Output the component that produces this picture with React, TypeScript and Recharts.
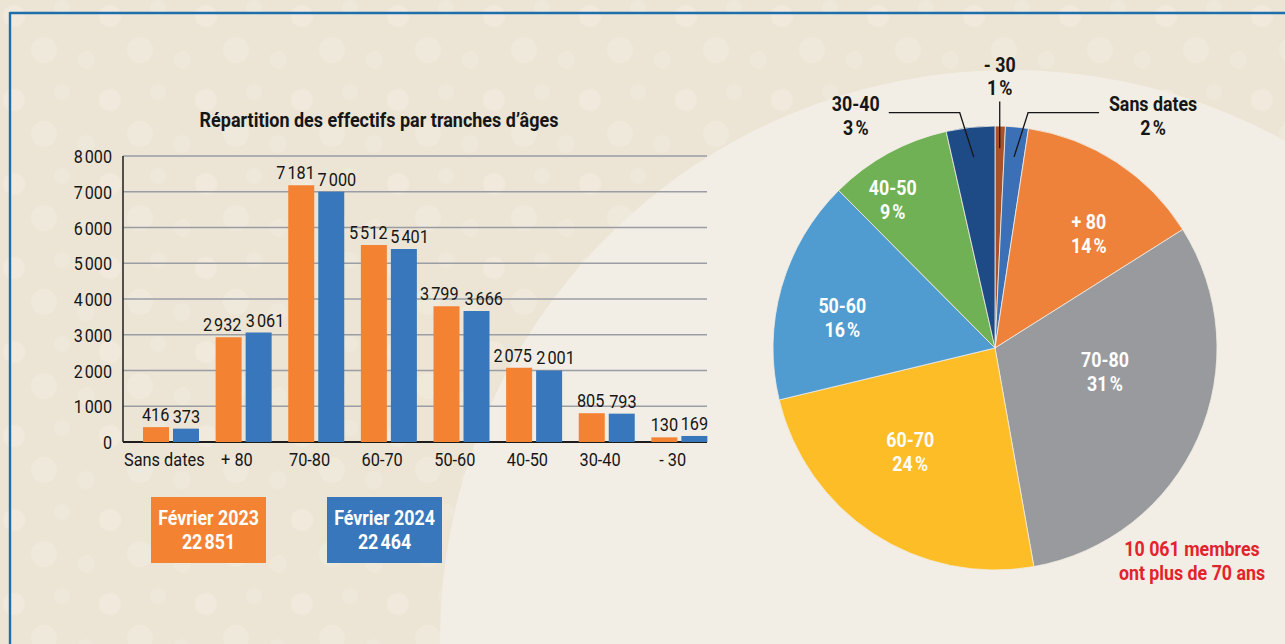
import { Bar, BarChart, CartesianGrid, Cell, LabelList, Pie, PieChart, XAxis, YAxis } from "recharts"

const categories = ["Sans dates", "+ 80", "70-80", "60-70", "50-60", "40-50", "30-40", "- 30"]
const feb2023 = [416, 2932, 7181, 5512, 3799, 2075, 805, 130]
const feb2024 = [373, 3061, 7000, 5401, 3666, 2001, 793, 169]
const yTicks = [0, 1000, 2000, 3000, 4000, 5000, 6000, 7000, 8000]

const legendLabels = ["Février 2023", "Février 2024"]
const legendTotals = [22851, 22464]

// pie = Février 2024, clockwise from 12 o'clock
const pieCategories = ["- 30", "Sans dates", "+ 80", "70-80", "60-70", "50-60", "40-50", "30-40"]
const pieValues = [169, 373, 3061, 7000, 5401, 3666, 2001, 793]
const pieShares = [1, 2, 14, 31, 24, 16, 9, 3]

const FONT = "Roboto, 'Liberation Sans', sans-serif"
const ORANGE = "#F48233"
const BLUE = "#3877BB"
const PIE_COLORS = ["#A9522A", "#3B70B7", "#EE823B", "#989A9D", "#FDBD27", "#509BD0", "#70B155", "#1E4B86"]
const TEXT = "#161616"

const PLOT_BOTTOM = 442

const barData = categories.map((name, i) => ({ name, feb2023: feb2023[i], feb2024: feb2024[i] }))
const pieData = pieCategories.map((name, i) => ({ name, value: pieValues[i] }))

const fmt = (v: any) => Number(v).toLocaleString("fr-FR")

// no condensed font installed, so text is squeezed horizontally
function NarrowText({ x, y, anchor = "middle", size = 19, weight = 400, fill = TEXT, sx, children }: any) {
  const k = sx ?? (weight >= 700 ? 0.89 : 0.85)
  const fs = weight >= 700 && size === 19 ? 20 : size
  return (
    <g transform={`translate(${x} ${y}) scale(${k} 1)`}>
      <text x={0} y={0} textAnchor={anchor} fill={fill} style={{ fontFamily: FONT, fontSize: fs, fontWeight: weight }}>
        {children}
      </text>
    </g>
  )
}

const renderGridLine = (props: any) => {
  const { x1, x2, y1, index } = props
  const base = Math.abs(y1 - PLOT_BOTTOM) < 1
  return (
    <line
      key={`grid-${index}`}
      x1={x1}
      x2={x2 - 9}
      y1={y1}
      y2={y1}
      stroke={base ? "#1d1d1d" : "#9a9da3"}
      strokeWidth={base ? 1.8 : 1.3}
    />
  )
}

const renderXTick = (p: any) => (
  <NarrowText key={`xt-${p.index}`} x={p.x - 7} y={p.y + 14} sx={0.86}>
    {p.payload.value}
  </NarrowText>
)

const renderYTick = (p: any) => (
  <NarrowText key={`yt-${p.index}`} x={p.x} y={p.y + 7} anchor="end">
    {fmt(p.payload.value)}
  </NarrowText>
)

// rough width of a value label, used to push the two labels of a group apart
const labelWidth = (v: number) =>
  fmt(v)
    .split("")
    .reduce((w, ch) => w + (ch === "1" ? 6 : /\d/.test(ch) ? 9.1 : 3), 0)

const makeValueRenderer = (series: 0 | 1) => (p: any) => {
  const i = p.index
  const a = feb2023[i]
  const b = feb2024[i]
  const pxPerUnit = p.value ? Math.abs(p.height) / p.value : 0
  let shift = 0
  if (Math.abs(a - b) * pxPerUnit < 16) {
    const overlap = labelWidth(a) / 2 + labelWidth(b) / 2 + 5 - 30
    if (overlap > 0) shift = overlap / 2
  }
  const dx = series === 0 ? -shift : shift
  return (
    <NarrowText key={`v-${series}-${i}`} x={p.x + p.width / 2 + dx} y={p.y - 6} size={18.5} sx={0.88}>
      {fmt(p.value)}
    </NarrowText>
  )
}

// label nudges for the white labels inside the pie
const insideNudge: Record<string, [number, number]> = {
  "+ 80": [16, 5],
  "70-80": [-20, -33],
  "60-70": [-7, -15],
  "50-60": [-16, 9],
  "40-50": [-34, -23],
}

const RAD = Math.PI / 180

const renderPieLabel = (p: any) => {
  const { cx, cy, midAngle, outerRadius: R, index } = p
  const name = pieCategories[index]
  const share = `${pieShares[index]}\u202F%`
  const c = Math.cos(-midAngle * RAD)
  const s = Math.sin(-midAngle * RAD)

  if (pieShares[index] <= 3) {
    if (Math.abs(c) < 0.05) {
      const sx = cx + 0.9 * R * c
      const sy = cy + 0.9 * R * s
      const ey = cy - 1.11 * R
      return (
        <g key={`pl-${index}`}>
          <line x1={sx} y1={sy} x2={sx} y2={ey} stroke={TEXT} strokeWidth={1.3} />
          <NarrowText x={sx} y={ey - 30} weight={700}>{name}</NarrowText>
          <NarrowText x={sx} y={ey - 7} weight={700}>{share}</NarrowText>
        </g>
      )
    }
    const dir = c > 0 ? 1 : -1
    const sx = cx + 0.865 * R * c
    const sy = cy + 0.865 * R * s
    const ex = sx + dir * 14
    const ey = cy - 1.06 * R
    const lx = ex + dir * 71
    const tx = dir > 0 ? lx + 54 : lx - 33
    return (
      <g key={`pl-${index}`}>
        <polyline points={`${sx},${sy} ${ex},${ey} ${lx},${ey}`} fill="none" stroke={TEXT} strokeWidth={1.3} />
        <NarrowText x={tx} y={ey - 2} weight={700}>{name}</NarrowText>
        <NarrowText x={tx} y={ey + 22} weight={700}>{share}</NarrowText>
      </g>
    )
  }

  const r = 0.64 * R
  const [nx, ny] = insideNudge[name] ?? [0, 0]
  const x = cx + r * c + nx
  const y = cy + r * s + ny
  return (
    <g key={`pl-${index}`}>
      <NarrowText x={x} y={y - 5} weight={700} fill="#ffffff">{name}</NarrowText>
      <NarrowText x={x} y={y + 19} weight={700} fill="#ffffff">{share}</NarrowText>
    </g>
  )
}

function Background() {
  return (
    <svg width={1285} height={644} style={{ position: "absolute", left: 0, top: 0 }}>
      <defs>
        <pattern id="dots" width="96" height="84" patternUnits="userSpaceOnUse">
          <circle cx="14" cy="16" r="11" fill="#f4f0e6" opacity="0.4" />
          <circle cx="62" cy="8" r="8" fill="#f4f0e6" opacity="0.3" />
          <circle cx="44" cy="50" r="13" fill="#f4f0e6" opacity="0.35" />
          <circle cx="86" cy="60" r="9" fill="#f4f0e6" opacity="0.3" />
        </pattern>
      </defs>
      <rect width={1285} height={644} fill="#ECE5D5" />
      <rect width={1285} height={644} fill="url(#dots)" />
      <circle cx={1010} cy={640} r={570} fill="#F2EEE5" />
      <line x1={10} y1={13} x2={1285} y2={13} stroke="#1F6EAC" strokeWidth={2.4} />
      <line x1={10} y1={12} x2={10} y2={644} stroke="#1F6EAC" strokeWidth={2.4} />
    </svg>
  )
}

function Overlay() {
  return (
    <svg width={1285} height={644} style={{ position: "absolute", left: 0, top: 0, pointerEvents: "none" }}>
      <NarrowText x={379} y={127} weight={700} sx={0.9}>
        Répartition des effectifs par tranches d’âges
      </NarrowText>
      {legendLabels.map((label, i) => {
        const x = i === 0 ? 151 : 327
        const mid = x + 57.5
        return (
          <g key={label}>
            <rect x={x} y={497} width={115} height={66} fill={i === 0 ? ORANGE : BLUE} />
            <NarrowText x={mid} y={525} weight={700} fill="#ffffff">{label}</NarrowText>
            <NarrowText x={mid} y={549} weight={700} fill="#ffffff">{fmt(legendTotals[i])}</NarrowText>
          </g>
        )
      })}
      <NarrowText x={1192} y={556} weight={700} fill="#E3232C">10 061 membres</NarrowText>
      <NarrowText x={1192} y={580} weight={700} fill="#E3232C">ont plus de 70 ans</NarrowText>
    </svg>
  )
}

export default function App() {
  return (
    <div style={{ position: "absolute", left: 0, top: 0, width: 1285, height: 644, overflow: "hidden" }}>
      <Background />
      <div style={{ position: "absolute", left: 0, top: 0 }}>
        <BarChart
          width={730}
          height={480}
          data={barData}
          margin={{ top: 156, right: 14, left: 63, bottom: 8 }}
          barGap={4}
          barSize={26}
        >
          <CartesianGrid vertical={false} horizontal={renderGridLine} />
          <XAxis
            dataKey="name"
            axisLine={false}
            tickLine={false}
            interval={0}
            padding={{ left: 12, right: 0 }}
            height={30}
            tickMargin={4}
            tick={renderXTick}
          />
          <YAxis
            domain={[0, 8000]}
            ticks={yTicks}
            width={60}
            axisLine={{ stroke: "#2a2a2a", strokeWidth: 1.6 }}
            tickLine={false}
            tickMargin={5}
            tick={renderYTick}
          />
          <Bar dataKey="feb2023" fill={ORANGE} isAnimationActive={false}>
            <LabelList dataKey="feb2023" content={makeValueRenderer(0)} />
          </Bar>
          <Bar dataKey="feb2024" fill={BLUE} isAnimationActive={false}>
            <LabelList dataKey="feb2024" content={makeValueRenderer(1)} />
          </Bar>
        </BarChart>
      </div>
      <div style={{ position: "absolute", left: 745, top: 0 }}>
        <PieChart width={540} height={644} margin={{ top: 0, right: 0, bottom: 0, left: 0 }}>
          <Pie
            data={pieData}
            dataKey="value"
            nameKey="name"
            cx={250}
            cy={348}
            outerRadius={222}
            startAngle={90}
            endAngle={-270}
            stroke="#f1ede4"
            strokeWidth={0.8}
            label={renderPieLabel}
            labelLine={false}
            isAnimationActive={false}
          >
            {pieData.map((d, i) => (
              <Cell key={d.name} fill={PIE_COLORS[i]} />
            ))}
          </Pie>
        </PieChart>
      </div>
      <Overlay />
    </div>
  )
}
